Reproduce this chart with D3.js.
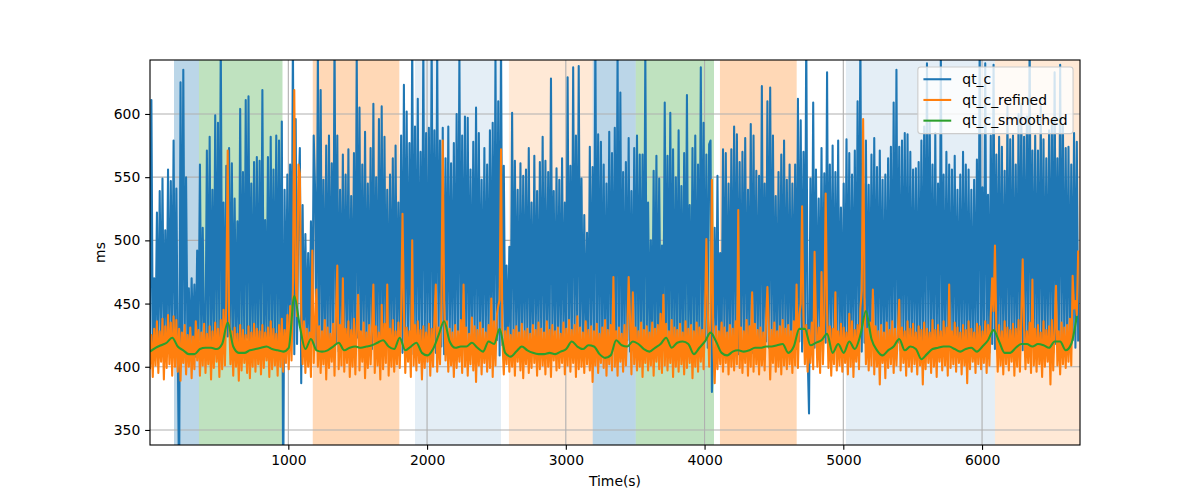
<!DOCTYPE html>
<html>
<head>
<meta charset="utf-8">
<script src="https://cdn.jsdelivr.net/npm/d3@7"></script>
<style>
  body { margin: 0; background: #fff; }
  svg text { font-family: "DejaVu Sans", sans-serif; }
</style>
</head>
<body>
<div id="chart"></div>
<script>
/* CONSTANTS AND GLOBALS */
const width = 1200,
  height = 500,
  margin = { top: 60, right: 120, bottom: 55, left: 150 };

const fontSize = 13.9;
// 1.5pt and 0.8pt at 100 dpi
const lineW = 2.08, thinW = 1.11;

/* DATA */
// sample spacing (seconds) of the raw/refined series and of the smoothed one
const tStart = 3, stepRaw = 10, stepSmooth = 40;

const qtC = [
  418,611,412,470,421,522,409,539,425,549,414,508,420,556,411,547,423,579,416,541,
  415,300,625,410,635,420,550,417,462,412,470,419,465,408,492,421,560,414,510,423,
  418,571,412,582,420,540,410,599,422,593,415,660,419,530,411,559,424,573,416,561,
  413,533,421,515,409,604,418,554,412,611,423,614,415,545,420,562,410,566,418,563,
  421,619,414,516,419,566,411,582,423,556,416,583,420,579,412,594,290,540,418,552,
  415,560,422,660,410,596,418,530,573,387,528,416,505,420,490,412,515,419,583,539,
  414,650,421,619,411,548,418,575,409,583,422,561,415,665,419,583,412,540,424,568,
  416,552,420,572,410,535,418,569,413,648,423,605,415,560,419,586,411,545,421,573,
  414,608,420,550,412,596,418,606,409,582,422,540,415,552,419,565,413,575,421,530,
  416,583,411,623,420,602,414,577,422,660,410,590,418,612,413,570,421,655,415,585,
  420,589,412,660,419,587,411,652,423,579,416,589,410,565,421,590,414,561,418,577,
  412,600,420,648,415,583,422,598,410,597,418,556,413,578,421,605,411,585,419,548,
  416,573,423,560,412,587,418,593,414,645,421,610,409,660,417,559,420,480,412,495,
  419,601,413,563,422,540,410,561,417,551,421,556,414,573,419,530,411,567,423,539,
  415,562,420,582,412,563,418,554,409,628,422,539,416,557,419,548,413,565,421,530,
  410,629,418,559,414,637,420,583,412,638,423,549,416,520,419,506,411,574,421,558,
  415,660,412,584,420,578,413,560,418,545,411,586,422,569,416,589,420,650,410,617,
  419,554,414,562,421,581,412,539,418,573,423,583,415,568,420,568,411,650,417,530,
  422,500,413,555,419,567,410,549,421,496,415,609,420,567,412,601,418,572,414,550,
  423,587,411,543,419,569,413,615,421,528,416,573,420,583,410,560,418,637,414,593,
  422,568,415,576,579,380,419,510,412,551,420,490,414,572,421,569,411,545,418,572,
  413,590,420,584,410,562,417,570,422,581,414,540,419,592,411,583,421,555,416,551,
  418,622,412,545,420,610,415,621,422,583,410,535,418,554,413,568,421,579,416,548,
  419,560,411,545,422,560,414,612,420,595,412,570,418,665,410,363,549,421,609,415,
  556,417,533,420,573,412,553,419,633,414,560,422,575,411,554,418,579,413,526,420,
  545,415,580,421,569,410,552,418,571,414,610,420,665,412,545,419,579,411,544,422,
  568,414,581,420,558,413,571,421,548,410,552,418,565,415,574,420,609,412,635,419,
  574,413,579,421,585,411,584,418,570,414,556,422,557,410,562,419,579,413,590,420,
  640,415,594,421,560,412,585,418,545,414,648,420,552,411,570,419,560,413,556,422,
  567,416,540,420,552,412,570,418,560,414,556,421,540,410,548,419,564,413,660,420,
  542,415,640,422,536,411,583,418,639,414,568,420,582,412,574,419,555,413,606,421,
  580,414,583,420,560,411,600,418,608,413,582,421,598,410,665,417,571,422,583,414,
  571,419,606,412,580,420,565,415,587,421,593,411,633,418,565,414,639,420,591,412,
  573,419,574,413,560,421,585,415,578,420
];

const qtCRefined = [
  398,425,392,430,401,436,395,428,404,438,390,432,399,441,402,435,393,440,400,437,
  396,430,389,427,403,433,394,425,400,431,391,424,398,436,405,429,393,427,401,434,
  395,426,402,432,390,428,399,435,404,430,392,437,398,445,401,452,571,440,402,428,
  393,431,400,426,389,433,397,429,403,425,395,432,391,427,400,434,396,430,402,428,
  394,433,399,427,405,431,392,436,398,430,401,426,393,433,400,438,396,429,403,441,
  398,448,405,462,619,470,440,560,553,445,402,436,395,430,400,427,392,492,403,438,
  461,400,432,395,428,402,437,390,431,399,426,404,434,393,441,480,398,433,401,470,
  396,430,403,436,392,429,400,438,394,431,457,397,428,404,435,391,427,399,433,402,
  429,465,395,432,401,427,390,449,398,434,403,465,393,430,400,437,396,428,402,435,
  399,441,521,446,395,431,404,428,392,500,401,433,397,436,403,429,390,432,399,427,
  404,434,393,430,400,438,465,396,431,402,445,579,452,405,436,396,430,401,427,392,
  433,399,428,404,437,395,465,400,431,393,426,402,439,397,432,388,429,401,435,394,
  430,403,427,396,433,399,454,392,436,401,441,448,453,572,420,394,428,402,431,396,
  425,400,429,393,432,404,427,397,434,391,428,402,430,395,426,399,433,403,429,393,
  435,398,430,401,427,394,436,400,429,392,433,405,428,397,431,399,426,403,435,394,
  430,401,437,396,429,403,433,392,440,398,431,400,427,395,436,402,429,397,432,388,
  428,401,434,395,426,403,431,399,437,393,429,402,433,397,471,400,428,393,431,404,
  426,396,433,401,429,471,438,394,459,402,431,397,428,400,435,392,429,403,432,397,
  427,401,435,393,430,404,433,398,442,395,457,401,434,397,428,403,437,392,431,400,
  429,396,434,402,427,394,436,399,430,403,433,391,428,400,435,396,431,404,429,398,
  441,501,446,400,437,548,420,387,432,398,428,402,435,396,431,403,427,394,433,400,
  430,397,436,402,524,399,431,395,428,403,437,393,432,400,459,396,434,402,429,394,
  431,401,427,397,436,463,433,390,429,403,435,396,428,400,432,394,437,401,430,398,
  433,402,428,395,436,401,465,399,441,450,527,440,402,433,396,429,403,435,398,491,
  436,400,431,395,475,402,438,537,445,399,432,393,430,402,459,397,428,401,434,396,
  431,403,427,394,442,400,436,392,429,404,433,398,446,460,596,455,402,430,397,435,
  401,461,394,432,400,428,386,433,403,427,391,435,399,429,402,436,395,430,401,427,
  453,397,431,403,428,393,436,400,430,396,434,402,427,394,432,401,429,386,435,398,
  430,403,427,395,437,400,429,392,433,404,428,397,436,401,431,393,465,399,428,402,
  435,396,431,403,427,394,433,401,429,387,436,398,430,404,427,395,434,402,432,398,
  428,403,436,395,433,401,441,470,444,496,430,396,433,401,428,394,436,402,431,397,
  429,404,434,393,430,400,437,396,440,485,432,398,428,403,435,395,469,401,430,396,
  433,402,427,392,436,400,429,404,432,386,437,397,430,464,401,428,394,435,402,431,
  399,433,404,438,401,472,446,452,441,492
];

const qtCSmoothed = [
  412,415,417,419,423,416,413,410,410,414,415,415,414,418,435,416,411,411,413,414,
  415,416,414,413,412,415,456,432,414,422,413,412,413,416,419,413,415,416,415,416,
  417,419,421,416,414,423,413,416,419,411,409,414,425,436,420,415,416,416,419,415,
  412,420,418,430,411,408,412,416,413,411,410,410,411,410,412,414,420,416,414,417,
  416,410,407,409,421,417,416,420,418,414,412,415,418,423,415,419,420,418,410,415,
  420,427,420,411,409,412,413,412,413,415,415,416,416,417,418,411,416,430,430,417,
  419,421,426,411,418,411,420,414,425,444,422,413,409,413,416,422,413,416,414,406,
  410,414,415,416,416,414,412,414,415,412,416,421,429,420,411,411,415,418,418,416,
  418,417,415,420,420,413,418,440
];

// shaded time windows
const spanStart = [176, 356, 1176, 1913, 2590, 3194, 3504, 4111, 5019, 6093];
const spanEnd   = [356, 958, 1800, 2533, 3194, 3504, 4068, 4664, 6093, 6800];
const spanColor = ["#1f77b4", "#2ca02c", "#ff7f0e", "#1f77b4", "#ff7f0e",
                   "#1f77b4", "#2ca02c", "#ff7f0e", "#1f77b4", "#ff7f0e"];
const spanAlpha = [0.3, 0.3, 0.3, 0.12, 0.17, 0.3, 0.3, 0.3, 0.12, 0.17];

const xTicks = [1000, 2000, 3000, 4000, 5000, 6000];
const yTicks = [350, 400, 450, 500, 550, 600];

const seriesNames = ["qt_c", "qt_c_refined", "qt_c_smoothed"];
const seriesColors = ["#1f77b4", "#ff7f0e", "#2ca02c"];

/* SCALES */
const innerW = width - margin.left - margin.right,
  innerH = height - margin.top - margin.bottom;

const xScale = d3.scaleLinear()
  .domain([3, 6706])
  .range([margin.left, margin.left + innerW]);

const yScale = d3.scaleLinear()
  .domain([338.1, 642.7])
  .range([margin.top + innerH, margin.top]);

const svg = d3.select("#chart")
  .append("svg")
  .attr("width", width)
  .attr("height", height);

svg.append("defs").append("clipPath")
  .attr("id", "plot-clip")
  .append("rect")
  .attr("x", margin.left)
  .attr("y", margin.top)
  .attr("width", innerW)
  .attr("height", innerH);

const plot = svg.append("g").attr("clip-path", "url(#plot-clip)");

// shaded windows
plot.selectAll(".span")
  .data(spanStart.map((s, i) => ({ s, e: spanEnd[i], c: spanColor[i], a: spanAlpha[i] })))
  .join("rect")
  .attr("class", "span")
  .attr("x", d => xScale(d.s))
  .attr("width", d => xScale(d.e) - xScale(d.s))
  .attr("y", margin.top)
  .attr("height", innerH)
  .attr("fill", d => d.c)
  .attr("fill-opacity", d => d.a);

// grid
plot.selectAll(".xgrid")
  .data(xTicks)
  .join("line")
  .attr("x1", d => xScale(d)).attr("x2", d => xScale(d))
  .attr("y1", margin.top).attr("y2", margin.top + innerH)
  .attr("stroke", "#b0b0b0").attr("stroke-width", thinW);

plot.selectAll(".ygrid")
  .data(yTicks)
  .join("line")
  .attr("y1", d => yScale(d)).attr("y2", d => yScale(d))
  .attr("x1", margin.left).attr("x2", margin.left + innerW)
  .attr("stroke", "#b0b0b0").attr("stroke-width", thinW);

// lines
const rawLine = d3.line()
  .x((d, i) => xScale(tStart + i * stepRaw))
  .y(d => yScale(d));

const smoothLine = d3.line()
  .x((d, i) => xScale(tStart + i * stepSmooth))
  .y(d => yScale(d))
  .curve(d3.curveMonotoneX);

const seriesPaths = [rawLine(qtC), rawLine(qtCRefined), smoothLine(qtCSmoothed)];

plot.selectAll(".series")
  .data(seriesPaths)
  .join("path")
  .attr("class", "series")
  .attr("d", d => d)
  .attr("fill", "none")
  .attr("stroke", (d, i) => seriesColors[i])
  .attr("stroke-width", lineW)
  .attr("stroke-linejoin", "round");

/* AXES */
const tickLen = 4.86;

const xAxis = svg.append("g")
  .attr("transform", `translate(0, ${margin.top + innerH})`)
  .call(d3.axisBottom(xScale)
    .tickValues(xTicks)
    .tickFormat(d3.format("d"))
    .tickSize(tickLen)
    .tickPadding(tickLen)
    .tickSizeOuter(0));

const yAxis = svg.append("g")
  .attr("transform", `translate(${margin.left}, 0)`)
  .call(d3.axisLeft(yScale)
    .tickValues(yTicks)
    .tickSize(tickLen)
    .tickPadding(tickLen)
    .tickSizeOuter(0));

[xAxis, yAxis].forEach(ax => {
  ax.select(".domain").remove();
  ax.attr("font-family", null).attr("font-size", null);
  ax.selectAll(".tick line").attr("stroke", "#000").attr("stroke-width", thinW);
  ax.selectAll(".tick text").attr("fill", "#000").style("font-size", fontSize + "px");
});

// frame
svg.append("rect")
  .attr("x", margin.left)
  .attr("y", margin.top)
  .attr("width", innerW)
  .attr("height", innerH)
  .attr("fill", "none")
  .attr("stroke", "#000")
  .attr("stroke-width", thinW);

svg.append("text")
  .attr("x", margin.left + innerW / 2)
  .attr("y", 486)
  .attr("text-anchor", "middle")
  .style("font-size", fontSize + "px")
  .text("Time(s)");

svg.append("text")
  .attr("transform", `translate(105, ${margin.top + innerH / 2}) rotate(-90)`)
  .attr("text-anchor", "middle")
  .style("font-size", fontSize + "px")
  .text("ms");

/* LEGEND */
const legend = svg.append("g");
const legendBox = legend.append("rect")
  .attr("fill", "#fff")
  .attr("fill-opacity", 0.8)
  .attr("stroke", "#cccccc")
  .attr("stroke-width", thinW)
  .attr("rx", 2.8);

const rowGap = 20.7, pad = 5.56, handleLen = 27.8, textGap = 11.1;
const legendRight = margin.left + innerW - 6.95, legendTop = margin.top + 6.95;

const rows = legend.selectAll(".row")
  .data(seriesNames)
  .join("g")
  .attr("class", "row");

const labels = rows.append("text")
  .style("font-size", fontSize + "px")
  .attr("y", (d, i) => legendTop + 12.3 + i * rowGap + 4.8)
  .text(d => d);

const maxW = d3.max(labels.nodes(), n => n.getComputedTextLength());
const boxW = pad + handleLen + textGap + maxW + pad;
const boxX = legendRight - boxW;

labels.attr("x", boxX + pad + handleLen + textGap);

rows.append("line")
  .attr("x1", boxX + pad)
  .attr("x2", boxX + pad + handleLen)
  .attr("y1", (d, i) => legendTop + 12.3 + i * rowGap)
  .attr("y2", (d, i) => legendTop + 12.3 + i * rowGap)
  .attr("stroke", (d, i) => seriesColors[i])
  .attr("stroke-width", lineW);

legendBox
  .attr("x", boxX)
  .attr("y", legendTop)
  .attr("width", boxW)
  .attr("height", 66.7);
</script>
</body>
</html>
